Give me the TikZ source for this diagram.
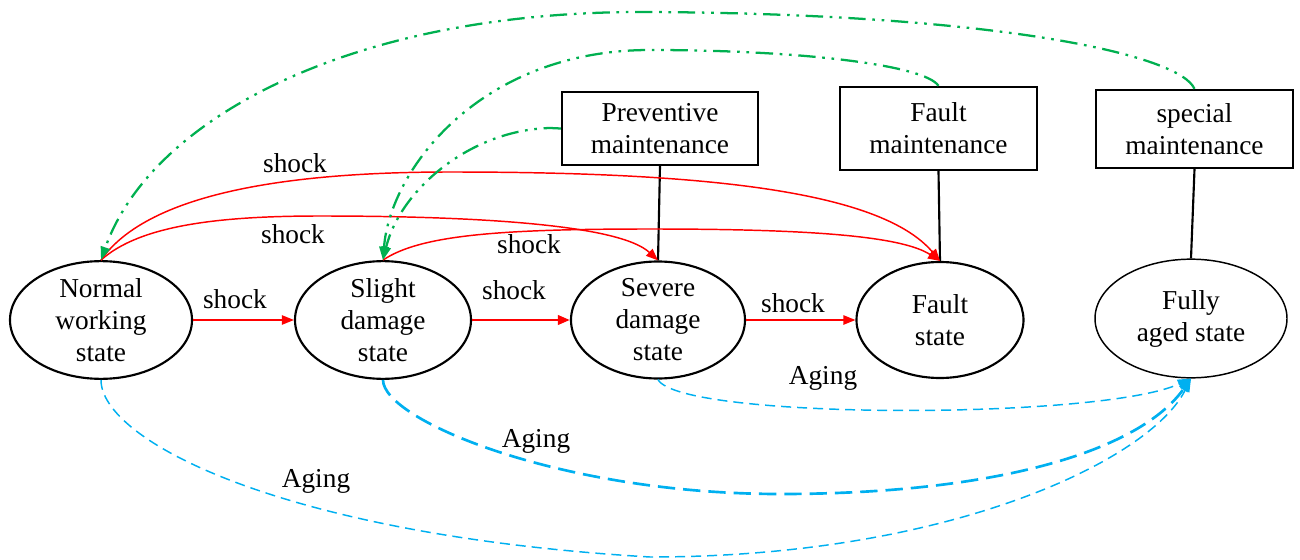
\documentclass[tikz,border=0pt]{standalone}
\usepackage{fontspec}
\newfontfamily\tnr{Liberation Serif}
\usetikzlibrary{arrows.meta,shapes.geometric}
\definecolor{gr}{HTML}{00B050}
\definecolor{bl}{HTML}{00B0F0}
\begin{document}
\begin{tikzpicture}[x=0.75pt,y=-0.75pt,font=\tnr\fontsize{20.5}{24}\selectfont,
  state/.style={ellipse,draw,line width=1.6pt,inner sep=0pt,align=center},
  mbox/.style={rectangle,draw,line width=1.7pt,inner sep=0pt,align=center},
  lbl/.style={inner sep=0pt},
  shk/.style={red,line width=1.1pt,-{Triangle[length=9pt,width=7pt]}},
  shkthick/.style={red,line width=2pt,-{Triangle[length=9pt,width=7pt]}},
  age/.style={bl,line width=1.1pt,dash pattern=on 7.5pt off 4.5pt,-{Triangle[length=10pt,width=7pt]}},
  agethick/.style={bl,line width=2pt,dash pattern=on 13pt off 6pt,-{Triangle[length=10pt,width=7pt]}},
  maint/.style={gr,line width=1.7pt,dash pattern=on 13pt off 5pt on 2pt off 5pt on 2pt off 5pt,-{Triangle[length=10pt,width=7pt]}}]
\useasboundingbox (0,0) rectangle (1300,560);

% states
\node[state,minimum width=136.5pt,minimum height=87.75pt] (N) at (101,320) {Normal\\working\\state};
\node[state,minimum width=132pt,minimum height=87.75pt] (S) at (383,320) {Slight\\damage\\state};
\node[state,minimum width=130.5pt,minimum height=87.75pt] (Sv) at (658,320) {Severe\\damage\\state};
\node[state,minimum width=125.25pt,minimum height=87pt] (F) at (940,320) {Fault\\state};
\node[state,line width=1.1pt,minimum width=144pt,minimum height=89pt] (Fa) at (1191,318.5) {Fully\\aged state};

% maintenance boxes
\node[mbox,minimum width=147pt,minimum height=54.75pt] (PM) at (660,128.5) {Preventive\\maintenance};
\node[mbox,minimum width=147.75pt,minimum height=62.25pt] (FM) at (938.5,128.5) {Fault\\maintenance};
\node[mbox,minimum width=147.75pt,minimum height=58.5pt] (SM) at (1194.5,129) {special\\maintenance};

\draw[line width=1.6pt] (PM.south) -- (Sv.north);
\draw[line width=1.6pt] (FM.south) -- (F.north);
\draw[line width=1.6pt] (SM.south) -- (Fa.north);

% shock transitions
\draw[shk] (N.east) -- (S.west);
\draw[shkthick] (S.east) -- (Sv.west);
\draw[shk] (Sv.east) -- (F.west);
\draw[shk] (N.north) .. controls (150,190) and (300,172) .. (450,172)
                     .. controls (700,172) and (880,190) .. (F.north);
\draw[shk] (N.north) .. controls (140,225) and (220,216) .. (320,216)
                     .. controls (480,216) and (620,225) .. (Sv.north);
\draw[shk] (S.north) .. controls (420,235) and (500,229) .. (650,229)
                     .. controls (800,229) and (900,235) .. (F.north);

\node[lbl] (l1) at (235,299) {shock};
\node[lbl] (l2) at (514,290) {shock};
\node[lbl] (l3) at (793,303) {shock};
\node[lbl] (l4) at (295,163) {shock};
\node[lbl] (l5) at (293,234) {shock};
\node[lbl] (l6) at (529,244) {shock};

% maintenance transitions
\draw[maint] (SM.north) .. controls (1180,55) and (1000,14) .. (650,12)
                        .. controls (350,10) and (150,120) .. (N.north);
\draw[maint] (FM.north) .. controls (925,65) and (800,50) .. (650,50)
                        .. controls (480,50) and (390,170) .. (S.north);
\draw[maint] (PM.west) -- (550,128) .. controls (470,130) and (400,190) .. (S.north);

% aging transitions
\draw[age] (Sv.south) .. controls (680,420) and (1100,420) .. (Fa.south);
\draw[agethick] (S.south) .. controls (383,420) and (560,494) .. (780,494)
                          .. controls (1000,494) and (1140,450) .. (Fa.south);
\draw[age] (N.south) .. controls (101,440) and (280,535) .. (650,557)
                     .. controls (950,557) and (1150,460) .. (Fa.south);

\node[lbl] (a1) at (823,378) {Aging};
\node[lbl] (a2) at (536,441) {Aging};
\node[lbl] (a3) at (316,481) {Aging};
\end{tikzpicture}
\end{document}
